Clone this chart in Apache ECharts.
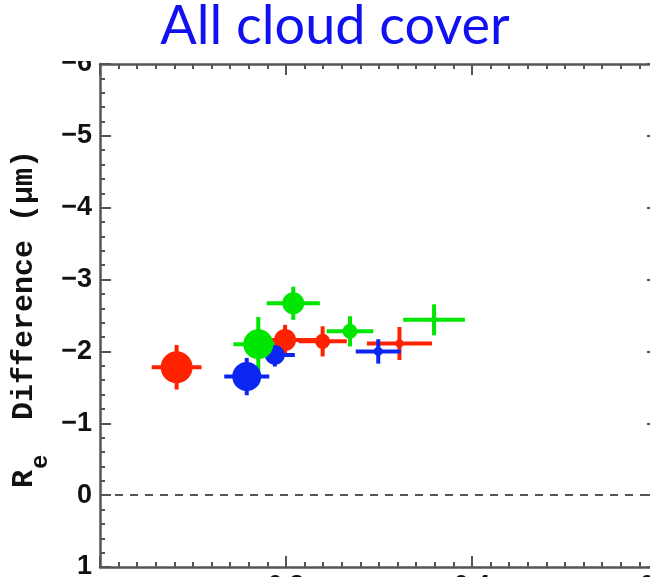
<!DOCTYPE html>
<html><head><meta charset="utf-8">
<script src="https://cdn.jsdelivr.net/npm/echarts@6/dist/echarts.min.js"></script>
<style>html,body{margin:0;padding:0;background:#fff}#c{width:650px;height:577px}</style>
</head><body><div id="c"></div>
<script>
// ---- data ----
const xTicks = [0, 0.2, 0.4, 0.6];
const yTicks = [-6, -5, -4, -3, -2, -1, 0, 1];

const redX    = [0.0824, 0.199, 0.2394, 0.322];
const redY    = [-1.78, -2.16, -2.14, -2.11];
const redXErr = [0.0268, 0.038, 0.026, 0.035];
const redYErr = [0.31, 0.21, 0.21, 0.23];
const redSize = [32, 22, 15, 8];

const blueX    = [0.1578, 0.188, 0.2992];
const blueY    = [-1.65, -1.95, -2.00];
const blueXErr = [0.0242, 0.0215, 0.0242];
const blueYErr = [0.26, 0.16, 0.17];
const blueSize = [29, 20, 9];

const greenX    = [0.1702, 0.2078, 0.2688, 0.3592];
const greenY    = [-2.10, -2.67, -2.28, -2.44];
const greenXErr = [0.0268, 0.0286, 0.025, 0.0332];
const greenYErr = [0.38, 0.23, 0.21, 0.216];
const greenSize = [30, 22, 15, 6];

const titleText = 'All cloud cover';

// ---- styles ----
const RED = '#ff2200', BLUE = '#0c26f2', GREEN = '#00e600';
const AX = '#555555';

function errData(xs, ys, ex, ey) { return xs.map((x, i) => [x, ys[i], ex[i], ey[i]]); }
function ptData(xs, ys, sz) { return xs.map((x, i) => [x, ys[i], sz[i]]); }

function errRender(color) {
  return function (params, api) {
    const x = api.value(0), y = api.value(1), ex = api.value(2), ey = api.value(3);
    const l = api.coord([x - ex, y]), r = api.coord([x + ex, y]);
    const t = api.coord([x, y - ey]), b = api.coord([x, y + ey]);
    return { type: 'group', children: [
      { type: 'line', shape: { x1: l[0], y1: l[1], x2: r[0], y2: r[1] }, style: { stroke: color, lineWidth: 4 } },
      { type: 'line', shape: { x1: t[0], y1: t[1], x2: b[0], y2: b[1] }, style: { stroke: color, lineWidth: 4 } }
    ] };
  };
}

function errSeries(color, data) {
  return { type: 'custom', xAxisIndex: 0, yAxisIndex: 0, renderItem: errRender(color), data: data,
           encode: { x: 0, y: 1 }, silent: true, clip: false };
}
function ptSeries(color, data) {
  return { type: 'scatter', xAxisIndex: 0, yAxisIndex: 0, data: data, symbol: 'circle',
           symbolSize: v => v[2], itemStyle: { color: color, opacity: 1 }, silent: true };
}

const minus = v => (v < 0 ? '\u2212' + Math.abs(v) : String(v));
const xFmt = v => v.toFixed(1);

const xMin = xTicks[0], xMax = xTicks[xTicks.length - 1], xInt = xTicks[1] - xTicks[0];
const yMin = yTicks[0], yMax = yTicks[yTicks.length - 1], yInt = yTicks[1] - yTicks[0];

const common = {
  axisLine: { show: true, onZero: false, lineStyle: { color: AX, width: 2.5 } },
  axisTick: { show: true, inside: true, length: 11, lineStyle: { color: AX, width: 2 } },
  minorTick: { show: true, length: 5, lineStyle: { color: AX, width: 2 } },
  splitLine: { show: false }
};

const chart = echarts.init(document.getElementById('c'), null, { renderer: 'canvas' });
chart.setOption({
  animation: false,
  backgroundColor: '#fff',
  title: {
    text: titleText, left: 330, textAlign: 'center', top: -5,
    textStyle: { fontFamily: 'Lato', fontSize: 54, fontWeight: 'normal', color: '#1010f0' }
  },
  grid: { left: 100, top: 64, width: 558, height: 503, containLabel: false, outerBoundsMode: 'none' },
  xAxis: [
    Object.assign({ type: 'value', position: 'bottom', min: xMin, max: xMax, interval: xInt,
      minorTick: Object.assign({}, common.minorTick, { splitNumber: 10 }),
      axisLabel: { show: true, margin: 6, showMinLabel: false, formatter: xFmt,
        fontFamily: 'Liberation Sans', fontWeight: 'bold', fontSize: 26, color: '#111' } },
      { axisLine: common.axisLine, axisTick: common.axisTick, splitLine: common.splitLine }),
    Object.assign({ type: 'value', position: 'top', min: xMin, max: xMax, interval: xInt,
      minorTick: Object.assign({}, common.minorTick, { splitNumber: 10 }),
      axisLabel: { show: false } },
      { axisLine: common.axisLine, axisTick: common.axisTick, splitLine: common.splitLine })
  ],
  yAxis: [
    Object.assign({ type: 'value', position: 'left', inverse: true, min: yMin, max: yMax, interval: yInt,
      minorTick: Object.assign({}, common.minorTick, { splitNumber: 5 }),
      axisLabel: { show: true, margin: 8, formatter: minus,
        fontFamily: 'Liberation Sans', fontWeight: 'bold', fontSize: 27, color: '#111' } },
      { axisLine: common.axisLine, axisTick: common.axisTick, splitLine: common.splitLine }),
    Object.assign({ type: 'value', position: 'right', inverse: true, min: yMin, max: yMax, interval: yInt,
      minorTick: Object.assign({}, common.minorTick, { splitNumber: 5 }),
      axisLabel: { show: false } },
      { axisLine: common.axisLine, axisTick: common.axisTick, splitLine: common.splitLine })
  ],
  graphic: [
    { type: 'rect', left: 0, top: 0, z: 5, shape: { width: 98, height: 61 }, style: { fill: '#fff' }, silent: true },
    { type: 'group', x: 24, y: 488, rotation: Math.PI / 2, z: 10, children: [
      { type: 'text', x: 0, y: 0, style: { text: 'R', font: 'bold 30px "Liberation Mono"', fill: '#111',
          align: 'left', verticalAlign: 'middle', textAlign: 'left', textVerticalAlign: 'middle' } },
      { type: 'text', x: 19, y: 17, style: { text: 'e', font: 'bold 24px "Liberation Mono"', fill: '#111',
          align: 'left', verticalAlign: 'middle', textAlign: 'left', textVerticalAlign: 'middle' } },
      { type: 'text', x: 68, y: 0, style: { text: 'Difference (\u03bcm)', font: 'bold 30px "Liberation Mono"', fill: '#111',
          align: 'left', verticalAlign: 'middle', textAlign: 'left', textVerticalAlign: 'middle' } }
    ] }
  ],
  series: [
    Object.assign(errSeries(RED, errData(redX, redY, redXErr, redYErr)), {
      markLine: { silent: true, symbol: 'none', label: { show: false },
        lineStyle: { color: '#555', width: 2, type: [8, 7] }, data: [{ yAxis: 0 }] } }),
    ptSeries(RED, ptData(redX, redY, redSize)),
    errSeries(BLUE, errData(blueX, blueY, blueXErr, blueYErr)),
    ptSeries(BLUE, ptData(blueX, blueY, blueSize)),
    errSeries(GREEN, errData(greenX, greenY, greenXErr, greenYErr)),
    ptSeries(GREEN, ptData(greenX, greenY, greenSize))
  ]
});
</script></body></html>
